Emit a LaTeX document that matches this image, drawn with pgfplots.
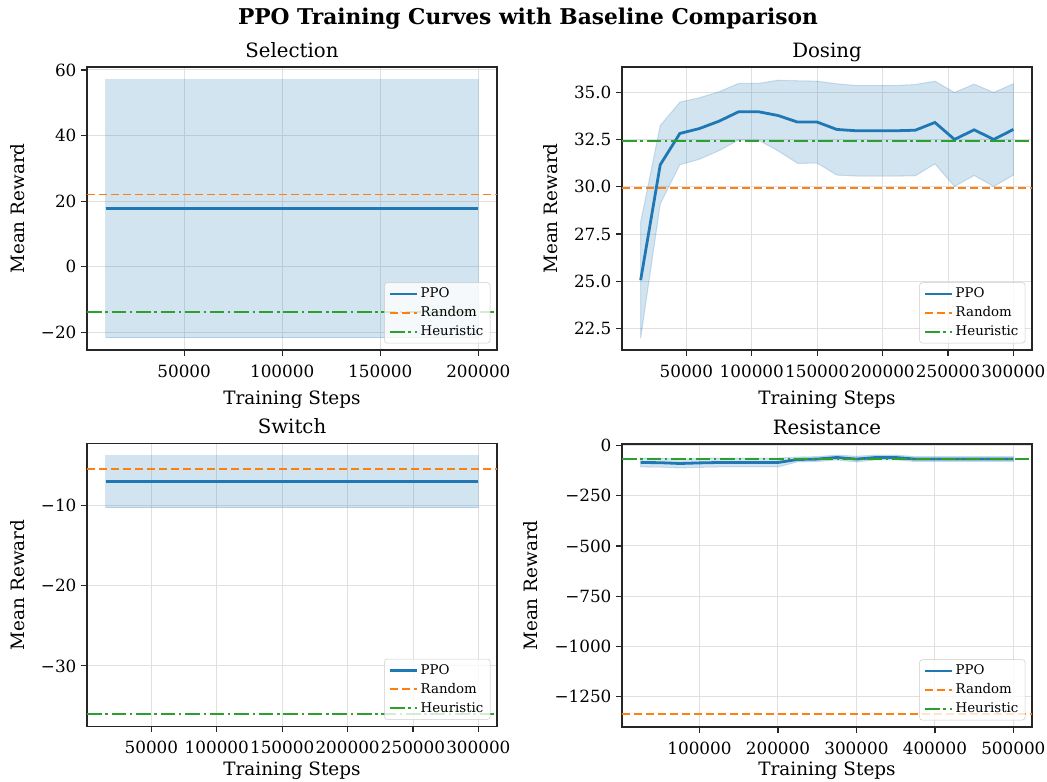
\documentclass[border=0pt]{standalone}
\usepackage{fontspec}
\setmainfont{DejaVu Serif}
\usepackage{pgfplots}
\pgfplotsset{compat=1.18}
\usepackage{pgfplotstable}

\definecolor{tabblue}{HTML}{1F77B4}
\definecolor{taborange}{HTML}{FF7F0E}
\definecolor{tabgreen}{HTML}{2CA02C}

% mean curves
\pgfplotstableread{
x mean
15000 25.05
30000 31.17
45000 32.83
60000 33.09
75000 33.48
90000 33.98
105000 33.98
120000 33.78
135000 33.43
150000 33.43
165000 33.04
180000 32.97
195000 32.97
210000 32.97
225000 33.00
240000 33.41
255000 32.51
270000 33.02
285000 32.51
300000 33.04
}\dosing
% band outline: upper edge forward, lower edge backward
\pgfplotstableread{
x y
15000 28.13
30000 33.25
45000 34.49
60000 34.72
75000 35.04
90000 35.48
105000 35.48
120000 35.65
135000 35.62
150000 35.60
165000 35.46
180000 35.37
195000 35.37
210000 35.37
225000 35.42
240000 35.60
255000 35.00
270000 35.44
285000 35.00
300000 35.46
300000 30.62
285000 30.02
270000 30.60
255000 30.02
240000 31.22
225000 30.58
210000 30.57
195000 30.57
180000 30.57
165000 30.62
150000 31.26
135000 31.24
120000 31.91
105000 32.48
90000 32.48
75000 31.92
60000 31.46
45000 31.17
30000 29.09
15000 21.97
}\dosingband

\pgfplotstableread{
x mean
10000 17.7
200000 17.7
}\selection
\pgfplotstableread{
x y
10000 57.0
200000 57.0
200000 -21.6
10000 -21.6
}\selectionband

\pgfplotstableread{
x mean
15000 -7.0
300000 -7.0
}\switchtab
\pgfplotstableread{
x y
15000 -3.75
300000 -3.75
300000 -10.25
15000 -10.25
}\switchband

\pgfplotstableread{
x mean
25000 -85
50000 -86
75000 -90
100000 -87
125000 -85
150000 -85
175000 -85
200000 -85
225000 -70
250000 -68
275000 -60
300000 -68
325000 -60
350000 -60
375000 -68
400000 -68
425000 -68
450000 -68
475000 -68
500000 -68
}\resistance
\pgfplotstableread{
x y
25000 -63
50000 -64
75000 -68
100000 -65
125000 -63
150000 -63
175000 -63
200000 -63
225000 -58
250000 -56
275000 -48
300000 -54
325000 -48
350000 -48
375000 -56
400000 -56
425000 -56
450000 -56
475000 -56
500000 -56
500000 -80
475000 -80
450000 -80
425000 -80
400000 -80
375000 -80
350000 -72
325000 -72
300000 -82
275000 -72
250000 -80
225000 -82
200000 -107
175000 -107
150000 -107
125000 -107
100000 -109
75000 -112
50000 -108
25000 -107
}\resistanceband

\pgfplotsset{
  panel/.style={
    scale only axis,
    width=307.5pt, height=212.25pt,
    anchor=north west,
    axis line style={black!85, line width=0.9pt},
    tick align=outside,
    xtick pos=bottom, ytick pos=left,
    major tick length=4.4pt,
    every tick/.style={black!85, line width=0.9pt},
    grid=major,
    major grid style={black!12, line width=0.7pt},
    scaled x ticks=false,
    scaled y ticks=false,
    tick label style={font=\fontsize{12.6}{14}\selectfont},
    xticklabel style={yshift=-3pt},
    label style={font=\fontsize{13.8}{16}\selectfont},
    title style={font=\fontsize{14.8}{17}\selectfont, at={(0.5,1)}, anchor=base, yshift=1.5pt},
    xlabel={Training Steps},
    ylabel={Mean Reward},
    xlabel style={yshift=-3pt},
    ylabel style={yshift=5.5pt},
    legend style={at={(1,0)}, anchor=south east, xshift=-5pt, yshift=5pt,
      draw=black!20, rounded corners=2pt, fill=white, fill opacity=0.8,
      text opacity=1, font=\fontsize{10}{11.5}\selectfont,
      row sep=1.2pt, inner xsep=3pt, inner ysep=2pt},
    legend cell align=left,
    legend image code/.code={\draw[##1] (0pt,0pt) -- (20pt,0pt);},
  },
  bottomrow/.style={xlabel style={yshift=4pt}},
  ppo/.style={tabblue, line width=2.1pt},
  rnd/.style={taborange, line width=1.4pt, dash pattern=on 6.2pt off 2.8pt},
  heu/.style={tabgreen, line width=1.4pt, dash pattern=on 11pt off 2.8pt on 1.8pt off 2.8pt},
  band/.style={fill=tabblue, fill opacity=0.2, draw=tabblue, draw opacity=0.2, line width=0.8pt, forget plot},
}

\begin{document}
\begin{tikzpicture}
\useasboundingbox (0pt,0pt) rectangle (785.25pt,-586.5pt);
\node[font=\fontsize{16.3}{19}\selectfont\bfseries] at (396pt,-14pt) {PPO Training Curves with Baseline Comparison};

% Selection
\begin{axis}[panel, at={(65.25pt,-50.25pt)}, title={Selection},
  xmin=500, xmax=209500, ymin=-25.4, ymax=60.9,
  xtick={50000,100000,150000,200000},
  xticklabels={50000,100000,150000,200000},
  ytick={-20,0,20,40,60},
  yticklabels={−20,0,20,40,60}]
\addplot[band] table[x=x,y=y] {\selectionband} -- cycle;
\addplot[ppo] table[x=x,y=mean] {\selection};
\addlegendentry{PPO}
\addplot[rnd] coordinates {(500,22.0) (209500,22.0)};
\addlegendentry{Random}
\addplot[heu] coordinates {(500,-13.7) (209500,-13.7)};
\addlegendentry{Heuristic}
\end{axis}

% Dosing
\begin{axis}[panel, at={(466.5pt,-50.25pt)}, title={Dosing},
  xmin=750, xmax=314250, ymin=21.35, ymax=36.35,
  xtick={50000,100000,150000,200000,250000,300000},
  xticklabels={50000,100000,150000,200000,250000,300000},
  ytick={22.5,25,27.5,30,32.5,35},
  yticklabels={22.5,25.0,27.5,30.0,32.5,35.0}]
\addplot[band] table[x=x,y=y] {\dosingband} -- cycle;
\addplot[ppo] table[x=x,y=mean] {\dosing};
\addlegendentry{PPO}
\addplot[rnd] coordinates {(750,29.94) (314250,29.94)};
\addlegendentry{Random}
\addplot[heu] coordinates {(750,32.44) (314250,32.44)};
\addlegendentry{Heuristic}
\end{axis}

% Switch
\begin{axis}[panel, bottomrow, at={(65.25pt,-332.5pt)}, title={Switch},
  xmin=750, xmax=314250, ymin=-37.55, ymax=-2.2,
  xtick={50000,100000,150000,200000,250000,300000},
  xticklabels={50000,100000,150000,200000,250000,300000},
  ytick={-30,-20,-10},
  yticklabels={−30,−20,−10}]
\addplot[band] table[x=x,y=y] {\switchband} -- cycle;
\addplot[ppo] table[x=x,y=mean] {\switchtab};
\addlegendentry{PPO}
\addplot[rnd] coordinates {(750,-5.37) (314250,-5.37)};
\addlegendentry{Random}
\addplot[heu] coordinates {(750,-35.96) (314250,-35.96)};
\addlegendentry{Heuristic}
\end{axis}

% Resistance
\begin{axis}[panel, bottomrow, at={(466.5pt,-333pt)}, title={Resistance},
  xmin=1250, xmax=523750, ymin=-1401, ymax=7,
  xtick={100000,200000,300000,400000,500000},
  xticklabels={100000,200000,300000,400000,500000},
  ytick={-1250,-1000,-750,-500,-250,0},
  yticklabels={−1250,−1000,−750,−500,−250,0}]
\addplot[band] table[x=x,y=y] {\resistanceband} -- cycle;
\addplot[ppo] table[x=x,y=mean] {\resistance};
\addlegendentry{PPO}
\addplot[rnd] coordinates {(1250,-1337) (523750,-1337)};
\addlegendentry{Random}
\addplot[heu] coordinates {(1250,-68.5) (523750,-68.5)};
\addlegendentry{Heuristic}
\end{axis}
\end{tikzpicture}
\end{document}
